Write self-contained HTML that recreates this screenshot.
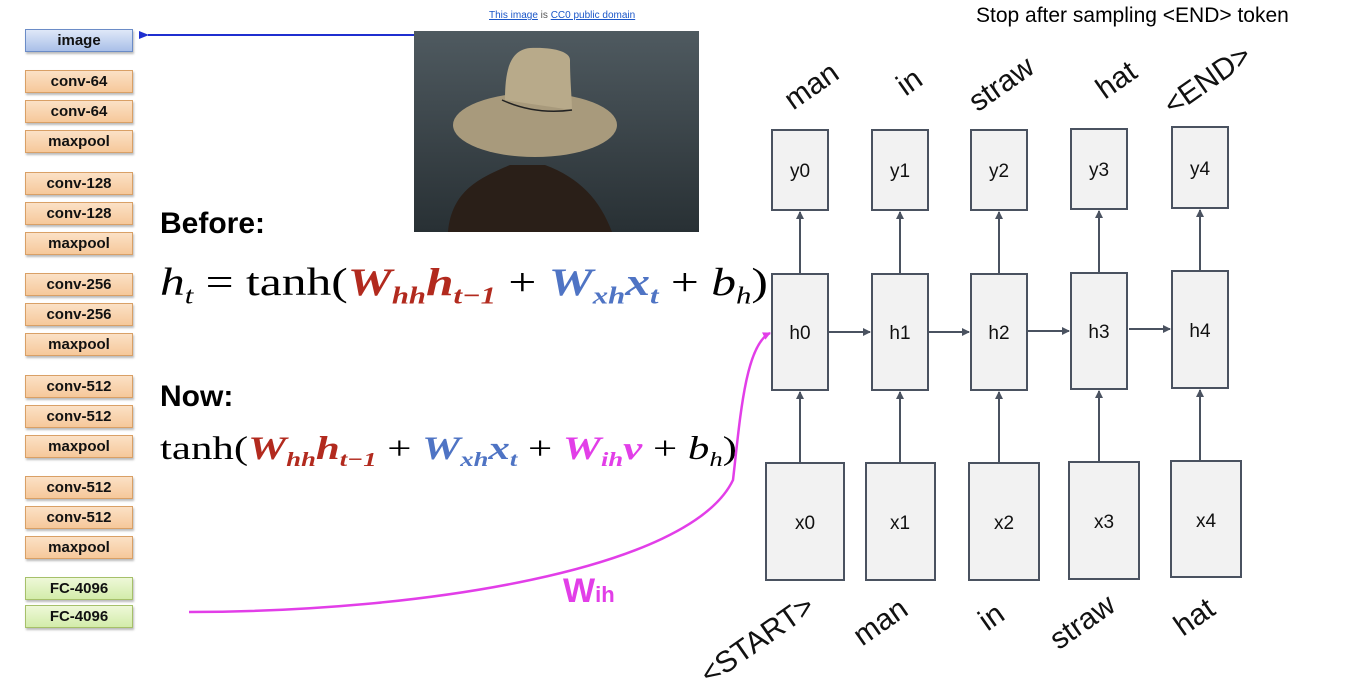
<!DOCTYPE html>
<html><head><meta charset="utf-8"><style>
body{margin:0;background:#fff;width:1368px;height:698px;overflow:hidden;position:relative;font-family:"Liberation Sans",sans-serif}
.b{position:absolute;left:25px;width:106px;height:21px;border:1px solid #d9a066;background:linear-gradient(#fbe1c6,#f6c89a);box-shadow:1px 2px 2px #bbb;font:bold 15px "Liberation Sans",sans-serif;text-align:center;line-height:21px;color:#111}
.g{border-color:#a6c06a;background:linear-gradient(#eef8d8,#d3ecaa)}
.bl{border-color:#6b8cc7;background:linear-gradient(#dfe8f8,#a9bfe8)}
.f{position:absolute;font-family:"Liberation Serif",serif;white-space:nowrap;color:#000;transform-origin:0 0}
.r{color:#b22a1e;font-weight:bold;font-style:italic}
.u{color:#4f74c4;font-weight:bold;font-style:italic}
.p{color:#e23ee8;font-weight:bold;font-style:italic}
i{font-style:italic}
sub{font-size:62%;vertical-align:-0.35em}
.h{position:absolute;font:bold 30px "Liberation Sans",sans-serif}
</style></head><body>
<div class="b bl" style="top:29px">image</div>
<div class="b" style="top:70px">conv-64</div>
<div class="b" style="top:100px">conv-64</div>
<div class="b" style="top:130px">maxpool</div>
<div class="b" style="top:172px">conv-128</div>
<div class="b" style="top:202px">conv-128</div>
<div class="b" style="top:232px">maxpool</div>
<div class="b" style="top:273px">conv-256</div>
<div class="b" style="top:303px">conv-256</div>
<div class="b" style="top:333px">maxpool</div>
<div class="b" style="top:375px">conv-512</div>
<div class="b" style="top:405px">conv-512</div>
<div class="b" style="top:435px">maxpool</div>
<div class="b" style="top:476px">conv-512</div>
<div class="b" style="top:506px">conv-512</div>
<div class="b" style="top:536px">maxpool</div>
<div class="b g" style="top:577px">FC-4096</div>
<div class="b g" style="top:605px">FC-4096</div>

<div style="position:absolute;left:489px;top:10px;font-size:10px;color:#555"><u style="color:#1a56c8">This image</u> is <u style="color:#1a56c8">CC0 public domain</u></div>
<div style="position:absolute;left:976px;top:4px;font-size:21px">Stop after sampling &lt;END&gt; token</div>

<div class="h" style="left:160px;top:207px">Before:</div>
<div class="h" style="left:160px;top:380px">Now:</div>
<div class="f" style="left:160px;top:260px;font-size:39px;transform:scaleX(1.27)"><i>h</i><sub><i>t</i></sub> = tanh(<span class="r">W<sub>hh</sub>h<sub>t−1</sub></span> + <span class="u">W<sub>xh</sub>x<sub>t</sub></span> + <i>b</i><sub><i>h</i></sub>)</div>
<div class="f" style="left:160px;top:431px;font-size:33px;transform:scaleX(1.3)">tanh(<span class="r">W<sub>hh</sub>h<sub>t−1</sub></span> + <span class="u">W<sub>xh</sub>x<sub>t</sub></span> + <span class="p">W<sub>ih</sub>v</span> + <i>b</i><sub><i>h</i></sub>)</div>
<div style="position:absolute;left:563px;top:572px;color:#e23ee8;font:bold 34px 'Liberation Sans',sans-serif">W<span style="font-size:22px">ih</span></div>

<svg width="1368" height="698" style="position:absolute;left:0;top:0">
<defs>
<marker id="a" markerWidth="8" markerHeight="8" refX="7" refY="4" orient="auto" markerUnits="userSpaceOnUse"><path d="M0,0L8,4L0,8z" fill="#4a5260"/></marker>
<marker id="bm" markerWidth="10" markerHeight="8" refX="1" refY="4" orient="auto" markerUnits="userSpaceOnUse"><path d="M10,0L0,4L10,8z" fill="#1f2fd0"/></marker>
<marker id="pm" markerWidth="8" markerHeight="8" refX="7" refY="4" orient="auto" markerUnits="userSpaceOnUse"><path d="M0,0L8,4L0,8z" fill="#e23ee8"/></marker>
<linearGradient id="w" x1="0" y1="0" x2="0" y2="1"><stop offset="0" stop-color="#4f5a60"/><stop offset="1" stop-color="#283034"/></linearGradient>
</defs>
<line x1="414" y1="35" x2="148" y2="35" stroke="#1f2fd0" stroke-width="2" marker-end="url(#bm)"/>
<rect x="414" y="31" width="285" height="201" fill="url(#w)"/>
<path d="M448,232 C452,190 480,178 510,165 L545,165 C580,178 600,200 612,232Z" fill="#2a1f18"/>
<ellipse cx="535" cy="125" rx="82" ry="32" fill="#a89a7c"/>
<path d="M505,100 C505,70 510,50 530,48 C555,47 570,52 570,60 C570,80 572,100 572,110 Z" fill="#b8aa8a"/>
<path d="M502,100 Q535,115 572,110" stroke="#222" stroke-width="1.5" fill="none"/>
<g fill="#f2f2f2" stroke="#4a5260" stroke-width="2">
<rect x="772" y="130" width="56" height="80"/><rect x="872" y="130" width="56" height="80"/><rect x="971" y="130" width="56" height="80"/><rect x="1071" y="129" width="56" height="80"/><rect x="1172" y="127" width="56" height="81"/>
<rect x="772" y="274" width="56" height="116"/><rect x="872" y="274" width="56" height="116"/><rect x="971" y="274" width="56" height="116"/><rect x="1071" y="273" width="56" height="116"/><rect x="1172" y="271" width="56" height="117"/>
<rect x="766" y="463" width="78" height="117"/><rect x="866" y="463" width="69" height="117"/><rect x="969" y="463" width="70" height="117"/><rect x="1069" y="462" width="70" height="117"/><rect x="1171" y="461" width="70" height="116"/>
</g>
<g stroke="#4a5260" stroke-width="2" marker-end="url(#a)">
<line x1="800" y1="274" x2="800" y2="212"/><line x1="900" y1="274" x2="900" y2="212"/><line x1="999" y1="274" x2="999" y2="212"/><line x1="1099" y1="273" x2="1099" y2="211"/><line x1="1200" y1="271" x2="1200" y2="210"/>
<line x1="800" y1="463" x2="800" y2="392"/><line x1="900" y1="463" x2="900" y2="392"/><line x1="999" y1="463" x2="999" y2="392"/><line x1="1099" y1="462" x2="1099" y2="391"/><line x1="1200" y1="461" x2="1200" y2="390"/>
<line x1="829" y1="332" x2="870" y2="332"/><line x1="929" y1="332" x2="969" y2="332"/><line x1="1028" y1="331" x2="1069" y2="331"/><line x1="1129" y1="329" x2="1170" y2="329"/>
</g>
<path d="M189,612 C420,612 690,570 733,480 C740,420 745,345 770,333" stroke="#e23ee8" stroke-width="2.5" fill="none" marker-end="url(#pm)"/>
<g font-family="Liberation Sans,sans-serif" font-size="19" fill="#111" text-anchor="middle">
<text x="800" y="177">y0</text><text x="900" y="177">y1</text><text x="999" y="177">y2</text><text x="1099" y="176">y3</text><text x="1200" y="175">y4</text>
<text x="800" y="339">h0</text><text x="900" y="339">h1</text><text x="999" y="339">h2</text><text x="1099" y="338">h3</text><text x="1200" y="337">h4</text>
<text x="805" y="529">x0</text><text x="900" y="529">x1</text><text x="1004" y="529">x2</text><text x="1104" y="528">x3</text><text x="1206" y="527">x4</text>
</g>
<g font-family="Liberation Sans,sans-serif" font-size="30" fill="#111" text-anchor="middle">
<text transform="translate(817,94) rotate(-35)">man</text>
<text transform="translate(915,90) rotate(-35)">in</text>
<text transform="translate(1007,92) rotate(-35)">straw</text>
<text transform="translate(1122,88) rotate(-35)">hat</text>
<text transform="translate(1213,88) rotate(-35)">&lt;END&gt;</text>
<text transform="translate(763,648) rotate(-35)">&lt;START&gt;</text>
<text transform="translate(886,630) rotate(-35)">man</text>
<text transform="translate(997,625) rotate(-35)">in</text>
<text transform="translate(1088,630) rotate(-35)">straw</text>
<text transform="translate(1200,625) rotate(-35)">hat</text>
</g>
</svg>
</body></html>
